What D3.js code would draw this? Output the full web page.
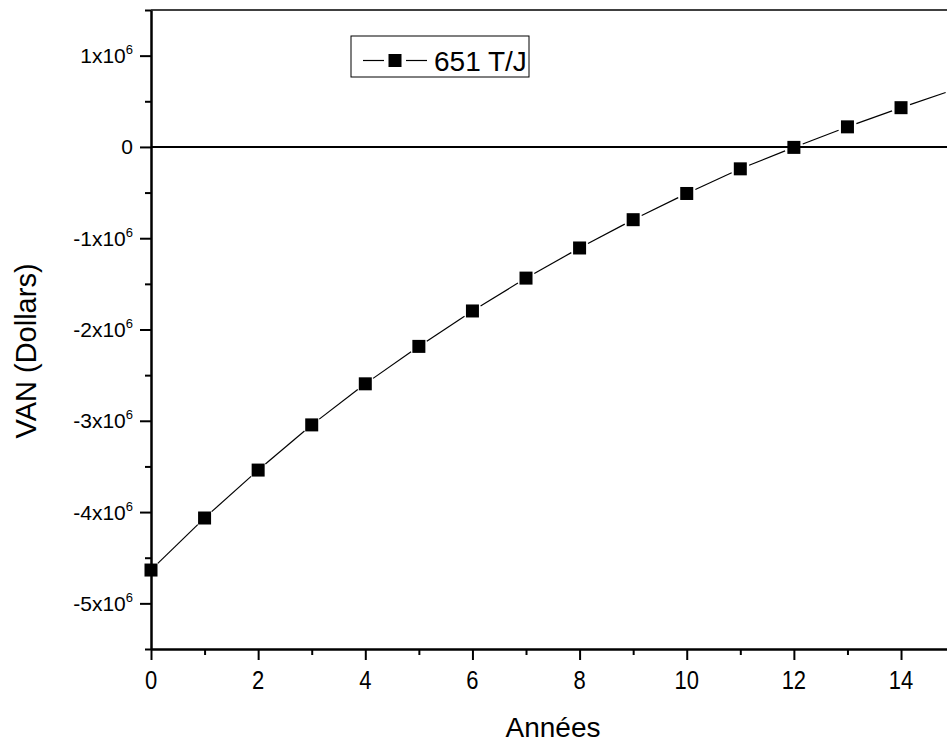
<!DOCTYPE html>
<html>
<head>
<meta charset="utf-8">
<script src="https://cdn.jsdelivr.net/npm/d3@7"></script>
<style>
  body { margin: 0; background: #fff; }
  svg { display: block; font-family: "Liberation Sans", Arial, sans-serif; }
  .axis path, .axis line { stroke: #000; }
</style>
</head>
<body>
<div id="chart"></div>
<script>
// data
const years = [0, 1, 2, 3, 4, 5, 6, 7, 8, 9, 10, 11, 12, 13, 14, 15];
const van = [-4635000, -4065000, -3540000, -3045000, -2595000, -2185000, -1797000, -1437000,
             -1107000, -797000, -510000, -240000, -5000, 220000, 430000, 630000];
const xMajorTicks = [0, 2, 4, 6, 8, 10, 12, 14];
const xMinorTicks = [1, 3, 5, 7, 9, 11, 13, 15];
const yMajorTicks = [-5e6, -4e6, -3e6, -2e6, -1e6, 0, 1e6];
const yMinorTicks = [-5.5e6, -4.5e6, -3.5e6, -2.5e6, -1.5e6, -0.5e6, 0.5e6, 1.5e6];
const seriesName = "651 T/J";

const width = 947, height = 743;
const margin = { left: 151, top: 10, bottom: 94 };

const svg = d3.select("#chart").append("svg")
    .attr("width", width)
    .attr("height", height);

const x = d3.scaleLinear().domain([0, 15]).range([margin.left, 954.6]);
const y = d3.scaleLinear().domain([-5.5e6, 1.5e6]).range([height - margin.bottom, margin.top]);

// top frame
svg.append("line")
    .attr("x1", x(0)).attr("x2", width)
    .attr("y1", y(1.5e6)).attr("y2", y(1.5e6))
    .attr("stroke", "#000").attr("stroke-width", 1.5);

// zero line
svg.append("line")
    .attr("x1", x(0)).attr("x2", width)
    .attr("y1", y(0)).attr("y2", y(0))
    .attr("stroke", "#000").attr("stroke-width", 2);

// x axis
const xAxis = svg.append("g")
    .attr("class", "axis")
    .attr("transform", `translate(0,${y(-5.5e6)})`);
xAxis.call(d3.axisBottom(x).tickValues(xMajorTicks).tickSize(11).tickSizeOuter(0).tickFormat(""));
xAxis.append("g").call(d3.axisBottom(x).tickValues(xMinorTicks).tickSize(6).tickFormat(""))
    .select(".domain").remove();
xAxis.selectAll("path.domain").attr("stroke-width", 2.5);
xAxis.selectAll("line").attr("stroke-width", 2);

// x tick labels, slightly stretched vertically like the original
svg.append("g").selectAll("text")
    .data(xMajorTicks)
    .join("text")
    .attr("x", d => x(d))
    .attr("y", 690)
    .attr("text-anchor", "middle")
    .attr("font-size", 22)
    .style("transform", "scale(1,1.15)")
    .style("transform-box", "fill-box")
    .style("transform-origin", "center bottom")
    .text(d => d);

// y axis
const yAxis = svg.append("g")
    .attr("class", "axis")
    .attr("transform", `translate(${x(0)},0)`);
yAxis.call(d3.axisLeft(y).tickValues(yMajorTicks).tickSize(11).tickSizeOuter(0).tickFormat(""));
yAxis.append("g").call(d3.axisLeft(y).tickValues(yMinorTicks).tickSize(6).tickFormat(""))
    .select(".domain").remove();
yAxis.selectAll("path.domain").attr("stroke-width", 2.5);
yAxis.selectAll("line").attr("stroke-width", 2);

const yLabels = svg.append("g").selectAll("text")
    .data(yMajorTicks)
    .join("text")
    .attr("x", x(0) - 18)
    .attr("y", d => y(d) + 7.5)
    .attr("text-anchor", "end")
    .attr("font-size", 21);
yLabels.filter(d => d === 0).text("0");
yLabels.filter(d => d !== 0).each(function (d) {
    const t = d3.select(this);
    t.append("tspan").text(`${d / 1e6}x10`);
    t.append("tspan").attr("font-size", 13).attr("dy", -9).text("6");
});

// axis titles
svg.append("text")
    .attr("x", 553)
    .attr("y", 737)
    .attr("text-anchor", "middle")
    .attr("font-size", 28)
    .text("Années");

svg.append("text")
    .attr("transform", `translate(36,351) rotate(-90)`)
    .attr("text-anchor", "middle")
    .attr("font-size", 29)
    .text("VAN (Dollars)");

// data line with small gaps around the markers
const gap = 9.5;
const pts = years.map((d, i) => [x(d), y(van[i])]);
const segs = [];
for (let i = 1; i < pts.length; i++) {
    const [x1, y1] = pts[i - 1], [x2, y2] = pts[i];
    const len = Math.hypot(x2 - x1, y2 - y1);
    const ux = (x2 - x1) / len, uy = (y2 - y1) / len;
    segs.push([[x1 + ux * gap, y1 + uy * gap], [x2 - ux * gap, y2 - uy * gap]]);
}
svg.append("g").selectAll("path")
    .data(segs)
    .join("path")
    .attr("d", d3.line())
    .attr("fill", "none")
    .attr("stroke", "#000")
    .attr("stroke-width", 1.2);

const ms = 13;
svg.append("g").selectAll("rect")
    .data(years)
    .join("rect")
    .attr("x", d => x(d) - ms / 2)
    .attr("y", (d, i) => y(van[i]) - ms / 2)
    .attr("width", ms)
    .attr("height", ms)
    .attr("fill", "#000");

// legend
const legend = svg.append("g");
legend.append("rect")
    .attr("x", 351).attr("y", 36)
    .attr("width", 178).attr("height", 41)
    .attr("fill", "#fff").attr("stroke", "#000").attr("stroke-width", 1);
legend.append("line").attr("x1", 363).attr("x2", 384).attr("y1", 60.5).attr("y2", 60.5)
    .attr("stroke", "#000").attr("stroke-width", 1.2);
legend.append("line").attr("x1", 406).attr("x2", 427).attr("y1", 60.5).attr("y2", 60.5)
    .attr("stroke", "#000").attr("stroke-width", 1.2);
legend.append("rect").attr("x", 395 - ms / 2).attr("y", 60.5 - ms / 2)
    .attr("width", ms).attr("height", ms).attr("fill", "#000");
legend.append("text")
    .attr("x", 434).attr("y", 71)
    .attr("font-size", 28)
    .text(seriesName);
</script>
</body>
</html>
